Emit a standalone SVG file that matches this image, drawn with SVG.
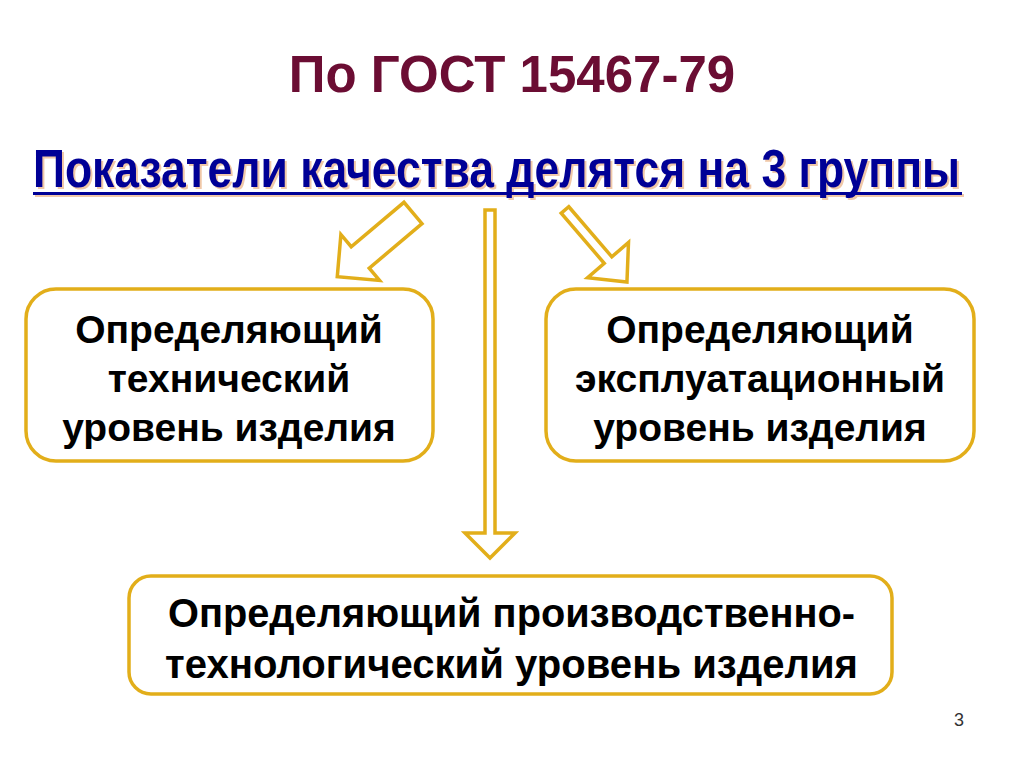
<svg xmlns="http://www.w3.org/2000/svg" width="1024" height="767" viewBox="0 0 1024 767">
  <style>
    .title { font-family: "Liberation Sans", Arial, sans-serif; font-weight: bold; font-size: 51px; fill: #6b0d33; }
    .sub { font-family: "Liberation Sans", Arial, sans-serif; font-weight: bold; font-size: 48px; fill: #000096; }
    .subsh { font-family: "Liberation Sans", Arial, sans-serif; font-weight: bold; font-size: 48px; fill: #f0c8a8; }
    .box { fill: #ffffff; stroke: #e2ae1a; stroke-width: 3.5; }
    .lbl { font-family: "Liberation Sans", Arial, sans-serif; font-weight: bold; font-size: 39px; fill: #000000; text-anchor: middle; }
    .lbln { font-family: "Liberation Sans", Arial, sans-serif; font-weight: bold; font-size: 40px; fill: #000000; }
    .arrow { fill: #ffffff; stroke: #e2ae1a; stroke-width: 3.5; stroke-linejoin: miter; }
    .pg { font-family: "Liberation Sans", Arial, sans-serif; font-size: 18px; fill: #333333; }
  </style>
  <rect width="1024" height="767" fill="#ffffff"/>

  <g id="title">
    <text class="title" x="512" y="92" text-anchor="middle">По ГОСТ 15467-79</text>
  </g>

  <g id="subtitle">
    <g transform="translate(35,189) scale(0.926,1.1)">
      <text class="subsh" x="0" y="0">Показатели качества делятся на 3 группы</text>
    </g>
    <rect x="35" y="194" width="929" height="3" fill="#f0c8a8"/>
    <g transform="translate(33,187) scale(0.926,1.1)">
      <text class="sub" x="0" y="0">Показатели качества делятся на 3 группы</text>
    </g>
    <rect x="33" y="192" width="929" height="3" fill="#000096"/>
  </g>

  <g id="connectors">
    <polygon class="arrow" transform="translate(413,213) rotate(139.9)" points="0,-14 69,-14 69,-30 99,0 69,30 69,14 0,14"/>
    <polygon class="arrow" points="485,210 495,210 495,533 515,533 490,558 465,533 485,533"/>
    <polygon class="arrow" transform="translate(565,210) rotate(49.3)" points="0,-5 66,-5 66,-27 95,0 66,27 66,5 0,5"/>
  </g>

  <g id="node-technical">
    <rect class="box" x="26" y="289" width="407" height="172" rx="30" ry="30"/>
    <text class="lbl" x="229" y="343">Определяющий</text>
    <text class="lbl" x="229" y="392">технический</text>
    <text class="lbl" x="229" y="441">уровень изделия</text>
  </g>

  <g id="node-operational">
    <rect class="box" x="546" y="289" width="428" height="172" rx="30" ry="30"/>
    <text class="lbl" x="760" y="343">Определяющий</text>
    <text class="lbl" x="760" y="392">эксплуатационный</text>
    <text class="lbl" x="760" y="441">уровень изделия</text>
  </g>

  <g id="node-production">
    <rect class="box" x="129" y="576" width="763" height="118" rx="22" ry="22"/>
    <text class="lbln" x="168" y="627" textLength="687" lengthAdjust="spacingAndGlyphs">Определяющий производственно-</text>
    <text class="lbln" x="165" y="678" textLength="693" lengthAdjust="spacingAndGlyphs">технологический уровень изделия</text>
  </g>

  <g id="page-number">
    <text class="pg" x="954" y="726">3</text>
  </g>
</svg>
